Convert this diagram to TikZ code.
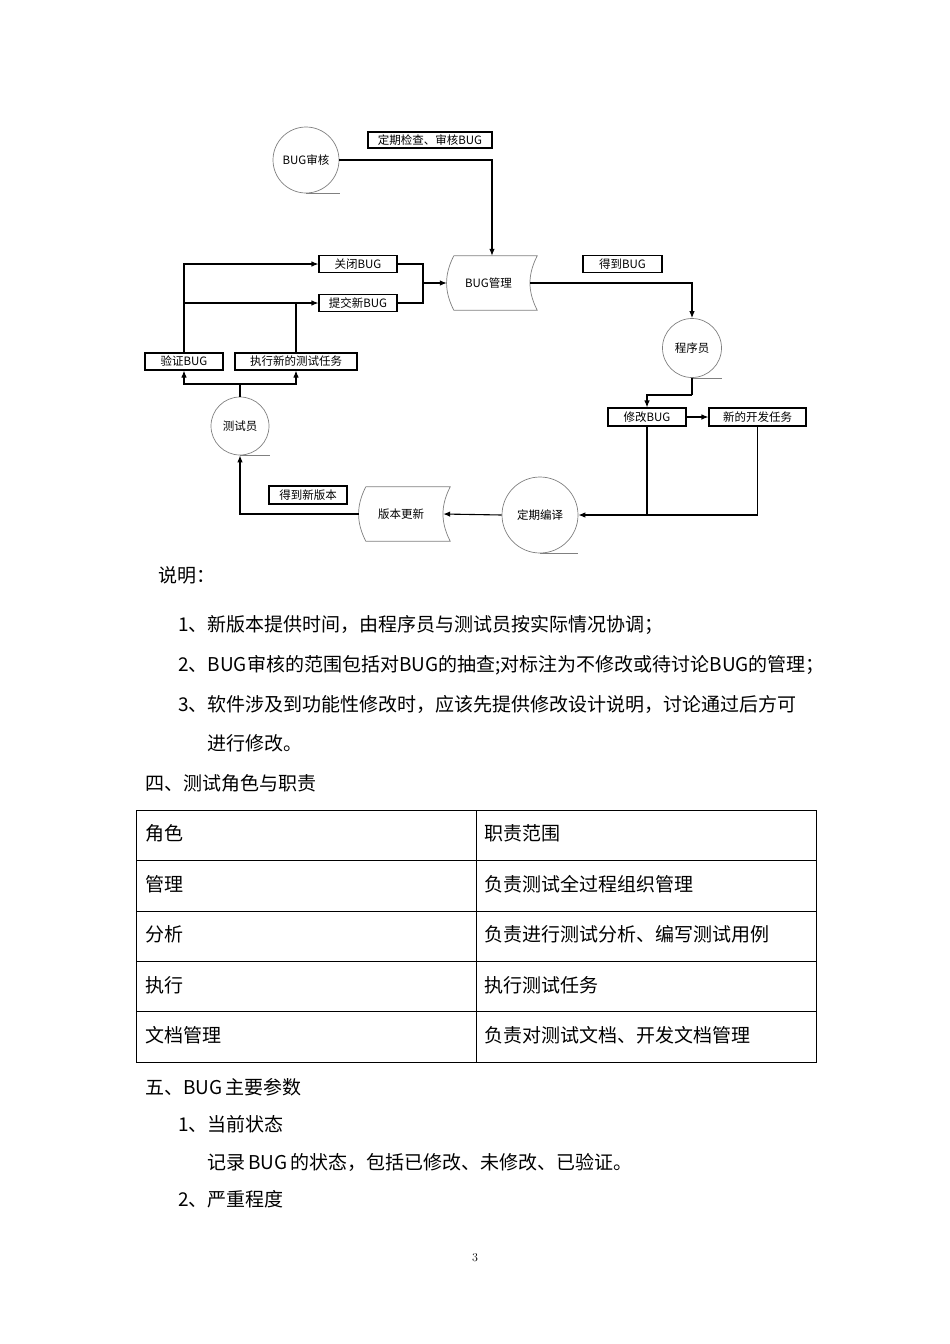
\documentclass[tikz,border=0pt]{standalone}
\usepackage{fontspec}
\newfontfamily\cjkfont{Noto Sans CJK SC}
\usetikzlibrary{arrows.meta}
\begin{document}
\begin{tikzpicture}[x=1pt,y=-1pt,
  dfont/.style={font=\cjkfont\fontsize{11.5}{13}\selectfont},
  proc/.style={circle, draw=black!50, line width=0.7pt, minimum size=#1, inner sep=0pt, dfont},
  shadowline/.style={draw=black!50, line width=0.7pt},
  lbl/.style={draw=black, line width=1.1pt, inner sep=0pt, dfont},
  store/.style={inner sep=0pt, dfont},
  storeline/.style={draw=black!50, line width=0.7pt},
  conn/.style={line width=1.1pt, black},
  arr/.style={conn, -{Latex[length=7pt,width=5.5pt]}},
  body/.style={anchor=west, inner sep=0pt, font=\cjkfont\fontsize{19}{23}\selectfont},
  tline/.style={line width=1pt, black}
  ]
\useasboundingbox (0,0) rectangle (950,1344);
\fill[white] (0,0) rectangle (950,1344);

% ---------- process circles ----------
\node[proc=66pt] (shen) at (306,160) {BUG审核};
\node[proc=58pt] (ceshi) at (240,426) {测试员};
\node[proc=59pt] (cxy) at (692,348) {程序员};
\node[proc=76pt] (bianyi) at (540,515) {定期编译};
\draw[shadowline] (shen.south) -- ++(34,0);
\draw[shadowline] (ceshi.south) -- ++(30,0);
\draw[shadowline] (cxy.south) -- ++(30,0);
\draw[shadowline] (bianyi.south) -- ++(38,0);

% ---------- stored data shapes ----------
\node[store, minimum width=83pt, minimum height=54pt] (bm) at (488.5,283) {BUG管理};
\draw[storeline] ([xshift=7pt]bm.north west) -- ([xshift=7pt]bm.north east)
  to[bend right=27] ([xshift=7pt]bm.south east)
  -- ([xshift=7pt]bm.south west)
  to[bend left=27] ([xshift=7pt]bm.north west);
\node[store, minimum width=84pt, minimum height=54pt] (bb) at (401,514) {版本更新};
\draw[storeline] ([xshift=7pt]bb.north west) -- ([xshift=7pt]bb.north east)
  to[bend right=27] ([xshift=7pt]bb.south east)
  -- ([xshift=7pt]bb.south west)
  to[bend left=27] ([xshift=7pt]bb.north west);

% ---------- label boxes ----------
\node[lbl, minimum width=124pt, minimum height=16pt] (l1) at (430,140) {定期检查、审核BUG};
\node[lbl, minimum width=78pt, minimum height=17pt] (gb) at (358,264) {关闭BUG};
\node[lbl, minimum width=78pt, minimum height=17pt] (tj) at (358,303) {提交新BUG};
\node[lbl, minimum width=78pt, minimum height=17pt] (yz) at (184,361.5) {验证BUG};
\node[lbl, minimum width=122pt, minimum height=17pt] (zx) at (296,361.5) {执行新的测试任务};
\node[lbl, minimum width=79pt, minimum height=17pt] (dbug) at (622.5,264) {得到BUG};
\node[lbl, minimum width=78pt, minimum height=18pt] (xg) at (647,417) {修改BUG};
\node[lbl, minimum width=97pt, minimum height=18pt] (xkf) at (757.5,417) {新的开发任务};
\node[lbl, minimum width=78pt, minimum height=18pt] (xbb) at (308,495) {得到新版本};

% ---------- junction coordinates ----------
\coordinate (mj) at (423,283);
\coordinate (cj) at (240,384);
\coordinate (pj) at (692,395);

% ---------- connectors ----------
\draw[arr] (shen.east) -| ([xshift=3.5pt]bm.north);
\draw[conn] (gb.east) -| (mj) |- (tj.east);
\draw[arr] (mj) -- (bm.west);
\draw[arr] (yz.north) |- (gb.west);
\draw[arr] (yz.north |- tj.west) -- (tj.west);
\draw[conn] (zx.north) -- (zx.north |- tj.west);
\draw[conn] (ceshi.north) -- (cj);
\draw[arr] (cj) -| (yz.south);
\draw[arr] (cj) -| (zx.south);
\draw[arr] (bm.east) -| (cxy.north);
\draw[conn] (cxy.south) -- (pj);
\draw[arr] (pj) -| (xg.north);
\draw[arr] (xg.east) -- (xkf.west);
\draw[arr] (xkf.south) |- (bianyi.east);
\draw[conn] (xg.south) -- (xg.south |- bianyi.east);
\draw[arr] (bianyi.west) -- (bb.east);
\draw[arr] (bb.west) -| (ceshi.south);

% ---------- body text ----------
\node[body] (sm) at (158,575) {说明：};
\node[body] (t1) at (178,625) {1、新版本提供时间，由程序员与测试员按实际情况协调；};
\node[body] (t2) at (178,665) {2、BUG审核的范围包括对BUG的抽查;对标注为不修改或待讨论BUG的管理；};
\node[body] (t3) at (178,704) {3、软件涉及到功能性修改时，应该先提供修改设计说明，讨论通过后方可};
\node[body] (t4) at (207,743) {进行修改。};
\node[body] (h4) at (145,783) {四、测试角色与职责};

% ---------- table ----------
\draw[tline] (136,810) rectangle (816,1062);
\draw[tline] (136,860.5) -- (816,860.5);
\draw[tline] (136,911) -- (816,911);
\draw[tline] (136,961) -- (816,961);
\draw[tline] (136,1011.5) -- (816,1011.5);
\draw[tline] (476,810) -- (476,1062);
\node[body] (r1a) at (145,833) {角色};
\node[body] (r1b) at (484,833) {职责范围};
\node[body] (r2a) at (145,884) {管理};
\node[body] (r2b) at (484,884) {负责测试全过程组织管理};
\node[body] (r3a) at (145,934) {分析};
\node[body] (r3b) at (484,934) {负责进行测试分析、编写测试用例};
\node[body] (r4a) at (145,985) {执行};
\node[body] (r4b) at (484,985) {执行测试任务};
\node[body] (r5a) at (145,1035) {文档管理};
\node[body] (r5b) at (484,1035) {负责对测试文档、开发文档管理};

% ---------- section five ----------
\node[body] (h5) at (145,1087) {五、BUG\hspace{3pt}主要参数};
\node[body] (s1) at (178,1124) {1、当前状态};
\node[body] (s1t) at (207,1162) {记录\hspace{3pt}BUG\hspace{3pt}的状态，包括已修改、未修改、已验证。};
\node[body] (s2) at (178,1199) {2、严重程度};
\node[font=\fontsize{12}{14}\selectfont, inner sep=0pt] (pg) at (475,1258) {3};
\end{tikzpicture}
\end{document}
